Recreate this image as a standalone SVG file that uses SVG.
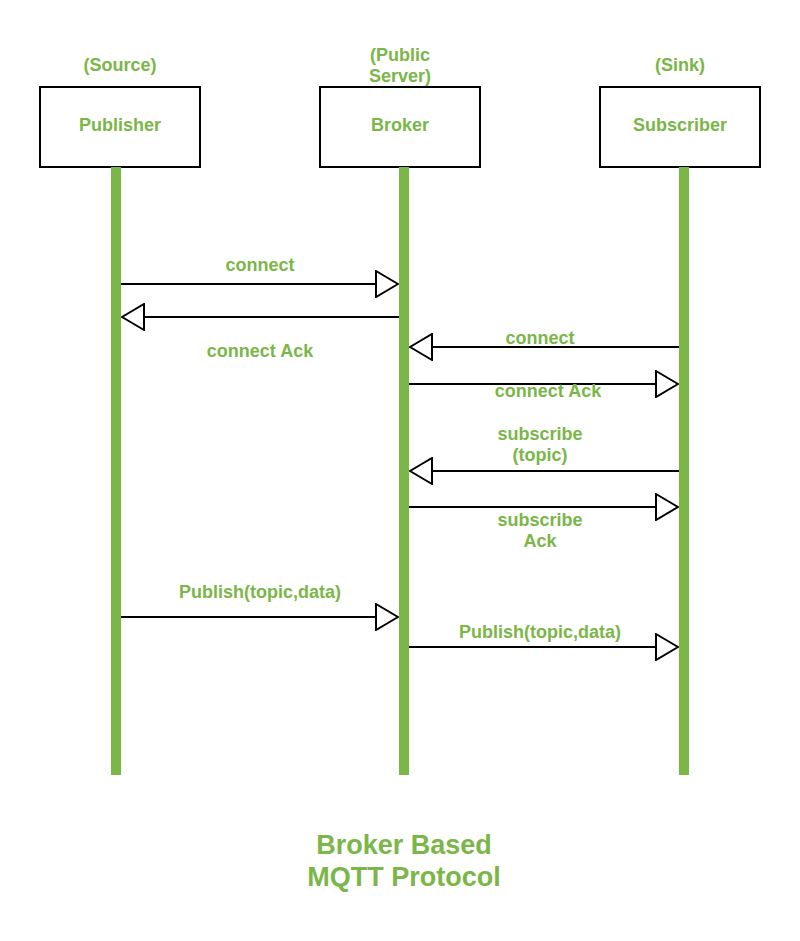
<svg xmlns="http://www.w3.org/2000/svg" width="800" height="941" viewBox="0 0 800 941">
<style>
.box{fill:#ffffff;stroke:#000000;stroke-width:2}
.life{fill:#7AB648;stroke:none}
.t{font-family:"Liberation Sans",Arial,Helvetica,sans-serif;font-weight:bold;font-size:18px;fill:#7AB648;text-anchor:middle}
.title{font-size:27px}
.msg{fill:none;stroke:#000000;stroke-width:2;marker-end:url(#tri)}
</style>
<defs>
<marker id="tri" markerUnits="userSpaceOnUse" viewBox="0 0 24 28" markerWidth="24" markerHeight="28" refX="23" refY="14" orient="auto">
<path d="M1,1 L23,14 L1,27 Z" fill="#ffffff" stroke="#000000" stroke-width="2"/>
</marker>
</defs>
<rect width="800" height="941" fill="#ffffff"/>
<g id="publisher">
<text class="t" x="120" y="71">(Source)</text>
<rect class="box" x="40" y="87" width="160" height="80"/>
<text class="t" x="120" y="131">Publisher</text>
<rect class="life" x="111" y="167" width="10" height="608"/>
</g>
<g id="broker">
<text class="t" x="400" y="61">(Public</text>
<text class="t" x="400" y="82">Server)</text>
<rect class="box" x="320" y="87" width="160" height="80"/>
<text class="t" x="400" y="131">Broker</text>
<rect class="life" x="399" y="167" width="10" height="608"/>
</g>
<g id="subscriber">
<text class="t" x="680" y="71">(Sink)</text>
<rect class="box" x="600" y="87" width="160" height="80"/>
<text class="t" x="680" y="131">Subscriber</text>
<rect class="life" x="679" y="167" width="10" height="608"/>
</g>
<g id="connectors">
<path class="msg" d="M121,284 L398,284"/>
<text class="t" x="260" y="271">connect</text>
<path class="msg" d="M399,317 L122,317"/>
<text class="t" x="260" y="357">connect Ack</text>
<path class="msg" d="M679,347 L410,347"/>
<text class="t" x="540" y="344">connect</text>
<path class="msg" d="M409,384 L678,384"/>
<text class="t" x="548" y="397">connect Ack</text>
<path class="msg" d="M679,471 L410,471"/>
<text class="t" x="540" y="440">subscribe</text>
<text class="t" x="540" y="461">(topic)</text>
<path class="msg" d="M409,507 L678,507"/>
<text class="t" x="540" y="526">subscribe</text>
<text class="t" x="540" y="547">Ack</text>
<path class="msg" d="M121,617 L398,617"/>
<text class="t" x="260" y="598">Publish(topic,data)</text>
<path class="msg" d="M409,647 L678,647"/>
<text class="t" x="540" y="638">Publish(topic,data)</text>
</g>
<g id="title">
<text class="t title" x="404" y="854">Broker Based</text>
<text class="t title" x="404" y="886">MQTT Protocol</text>
</g>
</svg>
